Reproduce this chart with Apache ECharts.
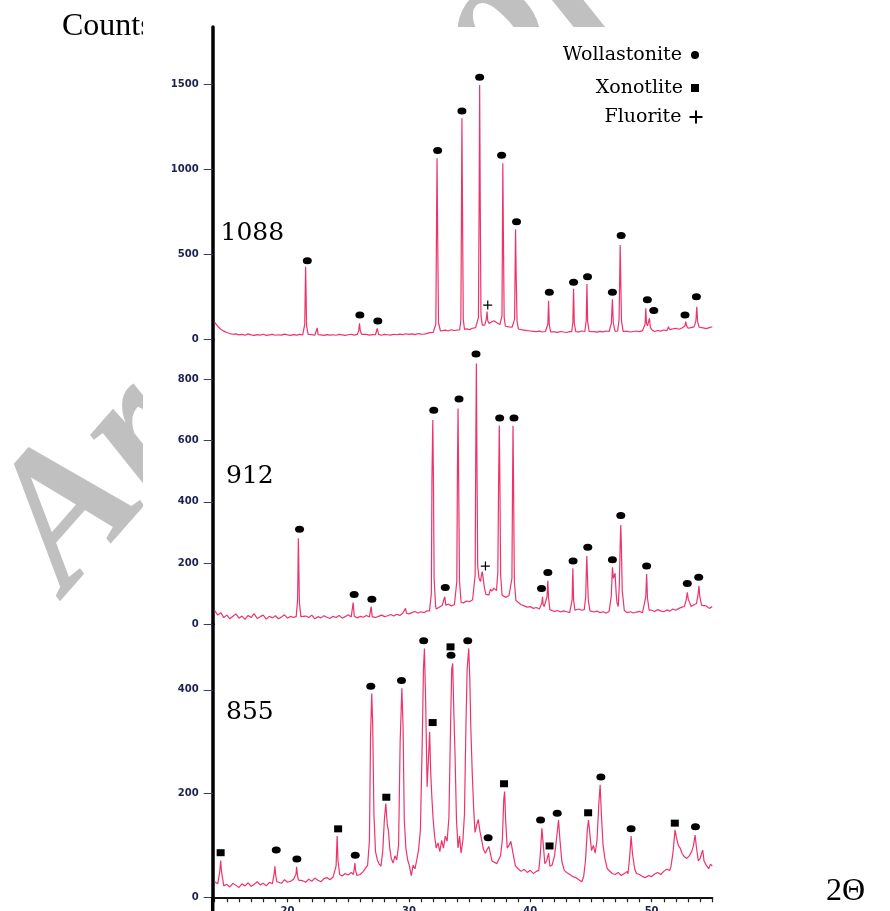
<!DOCTYPE html>
<html><head><meta charset="utf-8">
<script src="https://cdn.jsdelivr.net/npm/echarts@6/dist/echarts.min.js"></script>
<style>html,body{margin:0;padding:0;background:#fff}#c{width:890px;height:911px}</style>
</head><body><div id="c"></div>
<script>
// ---------- data ----------
const X_MIN = 14, X_MAX = 55, STEP = 0.25;
const xTickLabels = [20, 30, 40, 50];
const yTicks1088 = [0, 500, 1000, 1500];
const yTicks912 = [0, 200, 400, 600, 800];
const yTicks855 = [0, 200, 400];

// baseline counts sampled every 0.25 deg from 14 to 55
const base1088 = [
 100,78,60,49,41,35,31,33,27,30,25,33,27,24,29,26,31,24,27,30,
 25,28,26,32,27,24,29,26,30,27,28,26,29,25,30,27,24,29,26,28,
 25,30,27,24,28,31,26,29,27,25,30,26,29,32,27,25,30,28,26,31,
 28,32,29,34,30,33,29,35,32,31,36,40,42,45,48,52,55,50,57,53,
 56,58,60,62,58,66,70,74,90,84,100,92,110,98,88,80,76,74,72,68,
 62,58,55,52,50,48,46,49,44,47,43,48,45,42,47,44,41,46,43,48,
 45,50,47,44,49,46,43,48,45,50,47,52,48,46,49,45,48,44,47,50,
 46,52,58,55,50,47,53,49,56,52,58,62,66,60,68,72,65,70,74,78,
 72,68,64,70,75];
const peaks1088 = [
 [[21.30,30],[21.42,90],[21.47,330],[21.49,428],[21.52,320],[21.57,80],[21.70,30]],
 [[22.38,28],[22.45,68],[22.52,28]],
 [[25.75,30],[25.86,50],[25.93,95],[26.00,48],[26.12,30]],
 [[27.25,28],[27.39,66],[27.50,30]],
 [[32.10,40],[32.22,90],[32.27,600],[32.32,1066],[32.37,620],[32.44,100],[32.60,50]],
 [[34.18,56],[34.28,110],[34.33,700],[34.37,1301],[34.42,750],[34.48,120],[34.58,60]],
 [[35.62,72],[35.73,130],[35.79,820],[35.83,1497],[35.88,800],[35.94,140],[36.05,85]],
 [[36.30,86],[36.38,120],[36.44,164],[36.50,110],[36.60,95]],
 [[37.58,90],[37.67,140],[37.71,620],[37.74,1036],[37.79,600],[37.85,130],[37.95,78]],
 [[38.62,72],[38.71,120],[38.75,400],[38.79,648],[38.84,380],[38.91,110],[39.02,62]],
 [[41.35,46],[41.45,90],[41.51,228],[41.57,85],[41.68,45]],
 [[43.42,46],[43.51,100],[43.57,299],[43.63,95],[43.75,46]],
 [[44.52,48],[44.61,110],[44.67,326],[44.73,105],[44.85,48]],
 [[46.58,50],[46.68,95],[46.77,236],[46.84,100],[46.95,60]],
 [[47.20,50],[47.32,120],[47.37,360],[47.41,556],[47.46,340],[47.52,110],[47.65,48]],
 [[49.35,48],[49.46,90],[49.52,183],[49.58,95],[49.66,80],[49.75,90],[49.82,125],[49.90,70],[50.05,55]],
 [[51.30,55],[51.39,75],[51.48,58]],
 [[52.65,62],[52.75,80],[52.81,105],[52.88,82],[53.00,66]],
 [[53.55,70],[53.65,110],[53.72,193],[53.79,105],[53.92,72]]
];
const woll1088 = [[21.63,463],[25.96,144],[27.44,109],[32.37,1111],[34.37,1344],[35.83,1542],[37.64,1083],[38.87,693],[41.57,278],[43.57,336],[44.72,369],[46.77,278],[47.49,611],[49.65,234],[50.18,170],[52.75,144],[53.69,252]];
const fluo1088 = [[36.49,203]];

const base912 = [
 45,30,38,22,30,18,26,34,20,27,16,29,22,35,19,25,30,17,26,21,
 28,18,24,31,20,26,22,29,24,19,27,22,30,18,25,21,28,23,19,26,
 22,29,20,25,31,24,27,21,26,23,29,24,27,22,26,30,25,28,32,27,
 33,29,36,40,34,38,42,37,41,38,44,40,45,50,56,62,58,66,60,64,
 68,72,70,76,74,80,78,92,110,130,150,120,105,118,96,92,88,94,85,80,
 72,64,60,56,58,52,55,50,53,48,52,46,42,45,40,44,41,38,43,47,
 50,46,52,48,44,40,43,38,41,37,42,39,44,40,47,42,38,41,37,40,
 42,38,45,52,46,42,48,44,41,47,43,50,46,52,56,60,62,58,64,68,
 62,56,60,52,58];
const peaks912 = [
 [[20.72,26],[20.83,80],[20.87,200],[20.89,281],[20.93,190],[20.98,70],[21.10,25]],
 [[25.30,24],[25.41,71],[25.50,26]],
 [[26.80,24],[26.89,58],[26.98,25]],
 [[29.64,36],[29.72,52],[29.80,36]],
 [[31.70,44],[31.85,100],[31.90,470],[31.97,667],[32.02,480],[32.08,150],[32.20,60]],
 [[32.85,60],[32.95,90],[33.05,62]],
 [[33.82,66],[33.95,140],[34.00,500],[34.05,705],[34.10,480],[34.17,140],[34.30,72]],
 [[35.35,80],[35.46,160],[35.51,560],[35.56,852],[35.61,520],[35.67,190],[35.78,150],[35.90,140],[36.00,165],[36.05,172],[36.12,150],[36.22,120],[36.35,98],[36.48,104],[36.60,96],[36.72,115],[36.85,108],[37.00,118],[37.10,112]],
 [[37.22,110],[37.33,170],[37.39,450],[37.45,649],[37.50,460],[37.56,160],[37.68,95]],
 [[38.40,88],[38.49,150],[38.54,450],[38.58,648],[38.63,430],[38.69,140],[38.82,78]],
 [[40.88,52],[40.96,70],[41.01,90],[41.06,65],[41.15,58],[41.25,62],[41.38,90],[41.45,142],[41.51,85],[41.62,48]],
 [[43.35,44],[43.45,80],[43.51,183],[43.57,80],[43.68,46]],
 [[44.45,48],[44.57,90],[44.62,170],[44.66,223],[44.71,160],[44.78,80],[44.92,44]],
 [[46.55,42],[46.68,95],[46.77,186],[46.85,150],[46.99,167],[47.08,100],[47.15,70],[47.25,58],[47.34,130],[47.41,260],[47.46,324],[47.51,250],[47.58,110],[47.75,45]],
 [[49.40,44],[49.52,90],[49.59,164],[49.66,85],[49.80,46]],
 [[52.70,58],[52.85,80],[52.94,104],[53.02,82],[53.15,70]],
 [[53.70,68],[53.82,95],[53.90,126],[53.97,90],[54.12,62]]
];
const woll912 = [[20.99,310],[25.49,97],[26.95,82],[32.05,699],[33.00,120],[34.13,736],[35.53,883],[37.48,674],[38.66,674],[40.93,117],[41.45,169],[43.53,207],[44.74,252],[46.77,211],[47.46,355],[49.59,190],[52.94,133],[53.88,154]];
const fluo912 = [[36.30,190]];

const base855 = [
 30,26,24,22,25,20,27,23,19,26,22,28,21,25,30,24,27,22,29,26,
 30,32,27,34,29,31,35,30,36,32,29,35,31,37,33,30,36,38,34,39,
 40,44,41,46,43,48,42,45,44,50,48,55,60,58,62,60,65,62,66,64,
 70,66,64,60,58,62,66,70,90,110,100,95,90,100,95,110,120,100,130,140,
 100,95,100,90,110,95,90,85,80,75,85,90,70,65,60,62,70,75,78,70,
 55,50,54,48,52,46,50,45,49,52,58,62,60,66,62,55,48,44,40,38,
 34,30,36,40,44,48,52,50,55,48,52,46,44,48,42,46,50,52,48,46,
 44,40,38,42,40,45,48,44,50,54,52,58,56,60,62,60,64,66,70,68,
 72,70,66,62,60];
const peaks855 = [
 [[14.30,28],[14.42,50],[14.49,71],[14.56,50],[14.72,26]],
 [[18.82,28],[18.90,45],[18.96,60],[19.03,42],[19.12,30]],
 [[20.62,32],[20.70,45],[20.75,59],[20.81,44],[20.90,33]],
 [[23.90,38],[24.00,60],[24.09,118],[24.16,70],[24.30,44]],
 [[25.42,44],[25.50,55],[25.55,66],[25.61,52],[25.72,42]],
 [[26.40,48],[26.60,62],[26.75,110],[26.84,310],[26.94,393],[27.02,330],[27.12,160],[27.25,88],[27.40,72],[27.55,64],[27.70,60],[27.85,90],[27.98,150],[28.10,181],[28.22,140],[28.32,128],[28.42,95],[28.55,75],[28.70,66],[28.85,80],[29.00,72],[29.15,100],[29.28,300],[29.42,403],[29.52,330],[29.62,150],[29.75,95],[29.90,72],[30.05,60],[30.20,42],[30.35,62],[30.50,55],[30.65,72],[30.80,92],[30.95,130],[31.10,300],[31.20,440],[31.28,480],[31.38,380],[31.50,213],[31.62,270],[31.71,319],[31.80,240],[31.90,190],[32.00,150],[32.12,118],[32.25,95],[32.40,105],[32.55,88],[32.70,110],[32.85,95],[33.00,118],[33.15,108],[33.30,155],[33.45,350],[33.53,440],[33.61,451],[33.70,360],[33.80,278],[33.92,150],[34.05,95],[34.18,118],[34.30,85],[34.45,110],[34.58,160],[34.70,330],[34.80,440],[34.93,480],[35.02,420],[35.10,330],[35.22,240],[35.34,170],[35.45,125],[35.60,140],[35.72,150],[35.85,128],[36.00,110],[36.15,92],[36.30,85],[36.45,92],[36.58,98],[36.70,86],[36.85,70]],
 [[37.40,62],[37.55,80],[37.70,110],[37.82,190],[37.89,204],[37.97,150],[38.10,95],[38.25,100],[38.40,108],[38.50,110],[38.62,80],[38.78,60]],
 [[40.70,52],[40.82,80],[40.96,133],[41.08,100],[41.20,65],[41.35,70],[41.51,85],[41.62,60],[41.80,62],[42.00,80],[42.15,110],[42.33,149],[42.45,110],[42.60,70],[42.80,52]],
 [[44.40,40],[44.55,70],[44.70,130],[44.80,149],[44.92,120],[45.05,90],[45.20,100],[45.35,85],[45.50,110],[45.65,180],[45.76,217],[45.86,160],[46.00,100],[46.15,75],[46.35,55]],
 [[48.05,45],[48.20,80],[48.31,118],[48.42,85],[48.60,55]],
 [[51.60,60],[51.78,90],[51.93,130],[52.05,115],[52.20,100],[52.35,95],[52.50,85],[52.70,78],[52.90,75],[53.10,80],[53.30,88],[53.45,100],[53.58,120],[53.70,95],[53.85,70],[54.00,75],[54.12,85],[54.21,91],[54.32,70],[54.50,62],[54.70,55],[54.85,64],[55.00,60]]
];
const woll855 = [[19.07,91],[20.77,74],[25.58,81],[26.86,407],[29.39,418],[31.22,495],[33.47,467],[34.85,495],[36.53,115],[40.85,149],[42.22,162],[45.82,232],[48.31,132],[53.61,136]];
const xono855 = [[14.49,86],[24.17,132],[28.14,193],[31.96,337],[33.43,483],[37.84,219],[41.59,99],[44.77,163],[51.91,143]];

const panelNames = ['1088', '912', '855'];
const legendNames = ['Wollastonite', 'Xonotlite', 'Fluorite'];

// ---------- build ----------
function buildTrace(base, peaks) {
  const pts = [];
  base.forEach((v, i) => {
    const x = +(X_MIN + i * STEP).toFixed(2);
    const inPeak = peaks.some(g => x >= g[0][0] && x <= g[g.length - 1][0]);
    if (!inPeak) pts.push([x, v]);
  });
  peaks.forEach(g => g.forEach(p => pts.push(p)));
  pts.sort((a, b) => a[0] - b[0]);
  return pts;
}
const traces = [buildTrace(base1088, peaks1088), buildTrace(base912, peaks912), buildTrace(base855, peaks855)];

const LINE = '#ee336b';
const NAVY = '#1c2152';
const ELLIPSE = 'path://M0,5a5,5 0 1,0 10,0a5,5 0 1,0 -10,0z';
const PLUS = 'path://M4,0h1.2v4h3.8v1.2h-3.8v3.8h-1.2v-3.8h-4v-1.2h4z';
const PLUS_BOLD = 'path://M5.5,0h2v5.5h5.5v2h-5.5v5.5h-2v-5.5h-5.5v-2h5.5z';

const GL = 214.7, GW = 497.6;
const grids = [
  { left: GL, width: GW, top: 27, height: 312.5 },
  { left: GL, width: GW, top: 339.5, height: 284.8 },
  { left: GL, width: GW, top: 624.3, height: 273 }
];
const yMax = [1838, 930, 526.5];
const yTicks = [yTicks1088, yTicks912, yTicks855];
const labelFont = { color: NAVY, fontFamily: 'DejaVu Sans', fontWeight: 'bold', fontSize: 10, formatter: v => String(v) };

const xAxes = grids.map((g, i) => ({
  type: 'value', gridIndex: i, min: X_MIN, max: X_MAX, interval: 1, show: i === 2, z: 3,
  axisLine: { show: true, onZero: false, lineStyle: { color: '#111', width: 2 } },
  axisTick: { show: true, length: 5, lineStyle: { color: '#222', width: 1.2 } },
  axisLabel: Object.assign({ customValues: xTickLabels, margin: 9 }, labelFont),
  splitLine: { show: false }
}));
const yAxes = grids.map((g, i) => ({
  type: 'value', gridIndex: i, min: 0, max: yMax[i], offset: 2, z: 3,
  axisLine: { show: true, lineStyle: { color: '#000', width: 3.5 } },
  axisTick: { show: true, length: 9, customValues: yTicks[i], lineStyle: { color: '#3b3f66', width: 1 } },
  axisLabel: Object.assign({ customValues: yTicks[i], margin: 14 }, labelFont),
  splitLine: { show: false }
}));

const series = [];
traces.forEach((t, i) => series.push({
  type: 'line', xAxisIndex: i, yAxisIndex: i, data: t, symbol: 'none', showSymbol: false,
  lineStyle: { color: LINE, width: 1.2 }, z: 4, silent: true
}));
function scatter(name, idx, data, symbol, size) {
  return { type: 'scatter', name, xAxisIndex: idx, yAxisIndex: idx, data, symbol, symbolSize: size,
    itemStyle: { color: '#000', opacity: 1 }, z: 5, silent: true };
}
series.push(scatter('Wollastonite', 0, woll1088, ELLIPSE, [9, 7]));
series.push(scatter('Wollastonite', 1, woll912, ELLIPSE, [9, 7]));
series.push(scatter('Wollastonite', 2, woll855, ELLIPSE, [9, 7]));
series.push(scatter('Xonotlite', 2, xono855, 'rect', [8, 7]));
series.push(scatter('Fluorite', 0, fluo1088, PLUS, [9, 9]));
series.push(scatter('Fluorite', 1, fluo912, PLUS, [9, 9]));

const legendText = { fontFamily: 'DejaVu Serif', fontSize: 19, color: '#000', lineHeight: 22, padding: [0, 3, 0, 0] };
const legends = [
  { data: [{ name: legendNames[0], icon: ELLIPSE }], right: 191, top: 44, itemWidth: 10, itemHeight: 8 },
  { data: [{ name: legendNames[1], icon: 'rect' }], right: 191, top: 77, itemWidth: 8, itemHeight: 8 },
  { data: [{ name: legendNames[2], icon: PLUS_BOLD }], right: 187.5, top: 106, itemWidth: 13, itemHeight: 13 }
].map(l => Object.assign({ orient: 'vertical', align: 'right', padding: 0, selectedMode: false, z: 6,
  textStyle: legendText, itemStyle: { color: '#000', opacity: 1 } }, l));

const panelLabelPos = [[220.5, 233], [226, 476], [226, 712]];
const graphic = [
  { type: 'text', x: 101, y: 624, rotation: 0.85, z: 0, silent: true,
    style: { text: 'Archive of SID', font: 'italic bold 190px "Liberation Serif"', fill: '#c0c0c0', align: 'left', verticalAlign: 'bottom' } },
  { type: 'text', x: 62, y: 26.5, z: 0, silent: true,
    style: { text: 'Counts', font: '32px "Liberation Serif"', fill: '#000', verticalAlign: 'middle' } },
  { type: 'rect', z: 1, silent: true, shape: { x: 143, y: 27, width: 747, height: 884 }, style: { fill: '#fff' } },
  { type: 'rect', z: 1, silent: true, shape: { x: 143, y: 0, width: 250, height: 27 }, style: { fill: '#fff' } },
  { type: 'rect', z: 5, silent: true, shape: { x: GL - 2 - 1.75, y: 897, width: 3.5, height: 14 }, style: { fill: '#000' } },
  { type: 'text', x: 826, y: 892, z: 6, silent: true,
    style: { text: '2Θ', font: '32px "Liberation Serif"', fill: '#000', verticalAlign: 'middle' } }
];
panelNames.forEach((n, i) => graphic.push({
  type: 'text', x: panelLabelPos[i][0], y: panelLabelPos[i][1], z: 6, silent: true,
  style: { text: n, font: '25px "DejaVu Serif"', fill: '#000', verticalAlign: 'middle' }
}));

const chart = echarts.init(document.getElementById('c'), null, { renderer: 'canvas' });
chart.setOption({
  animation: false,
  backgroundColor: '#fff',
  grid: grids.map(g => Object.assign({ outerBoundsMode: 'none', containLabel: false }, g)),
  xAxis: xAxes,
  yAxis: yAxes,
  legend: legends,
  graphic: graphic,
  series: series
});
</script></body></html>
